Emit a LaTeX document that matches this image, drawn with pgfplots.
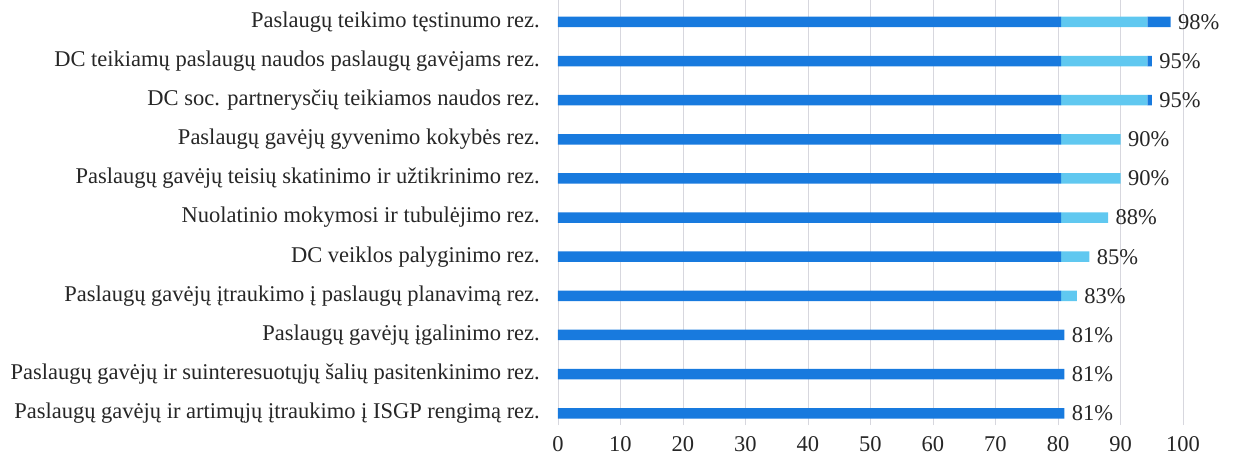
\documentclass[border=0pt]{standalone}
\usepackage{fontspec}
\setmainfont{Liberation Serif}
\usepackage{pgfplots}
\usepackage{pgfplotstable}
\pgfplotsset{compat=1.18}
\definecolor{barDark}{RGB}{24,122,222}
\definecolor{barLight}{RGB}{96,200,240}
\definecolor{gridc}{RGB}{215,215,222}
\pgfplotstableread{
y d1 l d2 total
0 81 0 0 81
1 81 0 0 81
2 81 0 0 81
3 80.5 2.5 0 83
4 80.5 4.5 0 85
5 80.5 7.5 0 88
6 80.5 9.5 0 90
7 80.5 9.5 0 90
8 80.5 13.8 0.7 95
9 80.5 13.8 0.7 95
10 80.5 13.8 3.7 98
}\datatable
\pgfplotsset{common/.style={
  at={(0,0)}, anchor=south west,
  scale only axis, width=625pt, height=425pt,
  bar width=10.5pt,
  xmin=0, xmax=100, ymin=-0.3, ymax=10.56,
  /pgf/number format/assume math mode=true,
}}
\begin{document}
\begin{tikzpicture}
\begin{axis}[common,
  xbar stacked,
  xtick={0,10,...,100},
  ytick={0,...,10},
  yticklabels={
    Paslaugų gavėjų ir artimųjų įtraukimo į ISGP rengimą rez.,
    Paslaugų gavėjų ir suinteresuotųjų šalių pasitenkinimo rez.,
    Paslaugų gavėjų įgalinimo rez.,
    Paslaugų gavėjų įtraukimo į paslaugų planavimą rez.,
    DC veiklos palyginimo rez.,
    Nuolatinio mokymosi ir tubulėjimo rez.,
    Paslaugų gavėjų teisių skatinimo ir užtikrinimo rez.,
    Paslaugų gavėjų gyvenimo kokybės rez.,
    DC soc. partnerysčių teikiamos naudos rez.,
    DC teikiamų paslaugų naudos paslaugų gavėjams rez.,
    Paslaugų teikimo tęstinumo rez.},
  axis line style={draw=none}, tick style={draw=none},
  xmajorgrids, major grid style={gridc, line width=0.7pt},
  tick label style={font=\fontsize{22.5}{26}\selectfont, text=black!85},
  yticklabel style={inner sep=0pt, xshift=-18pt},
  xticklabel style={yshift=-8pt},
]
\addplot[fill=barDark, draw=none] table[x=d1, y=y] {\datatable};
\addplot[fill=barLight, draw=none] table[x=l, y=y] {\datatable};
\addplot[fill=barDark, draw=none] table[x=d2, y=y] {\datatable};
\end{axis}
\begin{axis}[common, xbar, hide axis,
  nodes near coords={\pgfmathprintnumber{\pgfplotspointmeta}\%},
  every node near coord/.append style={font=\fontsize{22.5}{26}\selectfont, text=black!85, anchor=west, xshift=4pt},
]
\addplot[fill=none, draw=none, point meta=x] table[x=total, y=y] {\datatable};
\end{axis}
\pgfresetboundingbox
\useasboundingbox (-558pt,-39pt) rectangle (678pt,425pt);
\end{tikzpicture}
\end{document}
